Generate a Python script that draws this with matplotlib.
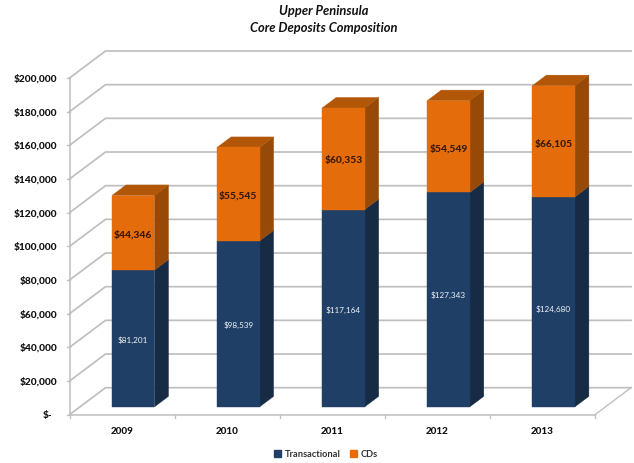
import matplotlib
matplotlib.use("Agg")
import matplotlib.pyplot as plt
from matplotlib.patches import Polygon, Rectangle

years = ["2009", "2010", "2011", "2012", "2013"]
transactional = [81201, 98539, 117164, 127343, 124680]
cds = [44346, 55545, 60353, 54549, 66105]
y_ticks = list(range(0, 200001, 20000))
title_lines = ["Upper Peninsula", "Core Deposits Composition"]

W, H = 634, 464
LEFT, RIGHT, TOP, BOTTOM = 69.5, 595.0, 79.0, 415.7

NAVY, NAVY_SIDE = "#1F3F66", "#172B45"
ORANGE, ORANGE_SIDE, ORANGE_TOP = "#E46C0A", "#974A08", "#B25708"
GRID = "#BFBFBF"
TEXT = "#111111"

plt.rcParams["font.family"] = ["Lato", "DejaVu Sans"]

fig = plt.figure(figsize=(W / 100, H / 100), dpi=100, facecolor="white")
ax = fig.add_axes([LEFT / W, 1 - BOTTOM / H, (RIGHT - LEFT) / W, (BOTTOM - TOP) / H])
ax.set_xlim(0, len(years))
ax.set_ylim(0, 200000)
ax.axis("off")

# Pixel scale of the axes, used to express the oblique depth direction in data units
px_x = len(years) / (RIGHT - LEFT)
px_y = 200000 / (BOTTOM - TOP)
DEPTH_DX, DEPTH_DY = 36 * px_x, 27 * px_y


def depth(x, y, d):
    """Project a point on the front plane back by fraction d of the chart depth."""
    return (x + d * DEPTH_DX, y + d * DEPTH_DY)


def poly(points, color, z):
    ax.add_patch(Polygon(points, closed=True, facecolor=color, edgecolor=color,
                         linewidth=0.3, zorder=z, clip_on=False))


# Back wall gridlines, side wall diagonals and the front-left axis
for v in y_ticks:
    x0, y0 = depth(0, v, 0)
    x1, y1 = depth(0, v, 1)
    x2, y2 = depth(len(years), v, 1)
    ax.plot([x0, x1, x2], [y0, y1, y2], color=GRID, lw=1.25, zorder=1,
            clip_on=False, solid_joinstyle="miter")
    ax.plot([x0 - 3 * px_x, x0], [v, v], color=GRID, lw=0.9, zorder=1, clip_on=False)
    label_x = -12.5 * px_x if v else -17.5 * px_x
    ax.text(label_x, v, f"${v:,}" if v else "$-", ha="right", va="center",
            fontsize=7.3, fontweight="black", color=TEXT, clip_on=False)

ax.plot([0, 0], [0, 200000], color=GRID, lw=1.1, zorder=1, clip_on=False)

# Floor outline and category ticks
ax.plot([0, len(years)], [0, 0], color=GRID, lw=1.1, zorder=1, clip_on=False)
ex, ey = depth(len(years), 0, 1)
ax.plot([len(years), ex], [0, ey], color=GRID, lw=1.0, zorder=1, clip_on=False)
for i in range(len(years) + 1):
    ax.plot([i, i], [0, -3 * px_y], color=GRID, lw=0.9, zorder=1, clip_on=False)

BAR_W = 42.5 * px_x
BAR_D0, BAR_D1 = 0.29, 0.68
BAR_SHIFT = 0.7 * px_x


def box(xc, y0, y1, face, side, top=None):
    xl, yb = depth(xc - BAR_W / 2, y0, BAR_D0)
    xr = xl + BAR_W
    yt = y1 + BAR_D0 * DEPTH_DY
    dx = (BAR_D1 - BAR_D0) * DEPTH_DX
    dy = (BAR_D1 - BAR_D0) * DEPTH_DY
    poly([(xr, yb), (xr + dx, yb + dy), (xr + dx, yt + dy), (xr, yt)], side, 3)
    if top:
        poly([(xl, yt), (xl + dx, yt + dy), (xr + dx, yt + dy), (xr, yt)], top, 3)
    poly([(xl, yb), (xr, yb), (xr, yt), (xl, yt)], face, 4)
    return (xl + xr) / 2


# Per-bar label placement relative to the segment centre, in value units
navy_offsets = [-400, -400, -800, 3000, -4000]
cd_offsets = [-400, -200, 200, -600, -800]

for i, (a, b) in enumerate(zip(transactional, cds)):
    xc = i + 0.5 + BAR_SHIFT
    cx = box(xc, 0, a, NAVY, NAVY_SIDE)
    box(xc, a, a + b, ORANGE, ORANGE_SIDE, ORANGE_TOP)
    base = BAR_D0 * DEPTH_DY
    ax.text(cx, a / 2 + base + navy_offsets[i], f"${a:,}", ha="center", va="center",
            fontsize=5.9, color="#F2F5F8", zorder=6)
    ax.text(cx, a + b / 2 + base + cd_offsets[i], f"${b:,}", ha="center", va="center",
            fontsize=7.4, fontweight="black", color="#3A1A05", zorder=6)
    ax.text(i + 0.5, -15.5 * px_y, years[i], ha="center", va="center",
            fontsize=7.1, fontweight="black", color=TEXT, clip_on=False)

# Two-line italic heading
for line, py in zip(title_lines, (11, 27.5)):
    fig.text(323.5 / W, 1 - py / H, line, ha="center", va="center", fontsize=9.3,
             fontweight="bold", fontstyle="italic", color=TEXT)

# Legend keys and labels
handles = [Rectangle((0, 0), 1, 1, color=NAVY), Rectangle((0, 0), 1, 1, color=ORANGE)]
leg = fig.legend(handles, ["Transactional", "CDs"], loc="center",
                 bbox_to_anchor=(326 / W, 1 - 455 / H), ncol=2, frameon=False,
                 prop={"size": 6.7, "weight": "bold"}, handlelength=0.75, handleheight=0.75,
                 handletextpad=0.4, columnspacing=1.0, borderpad=0)
for t in leg.get_texts():
    t.set_color("#333333")

fig.savefig("out.png", dpi=100, facecolor="white")
